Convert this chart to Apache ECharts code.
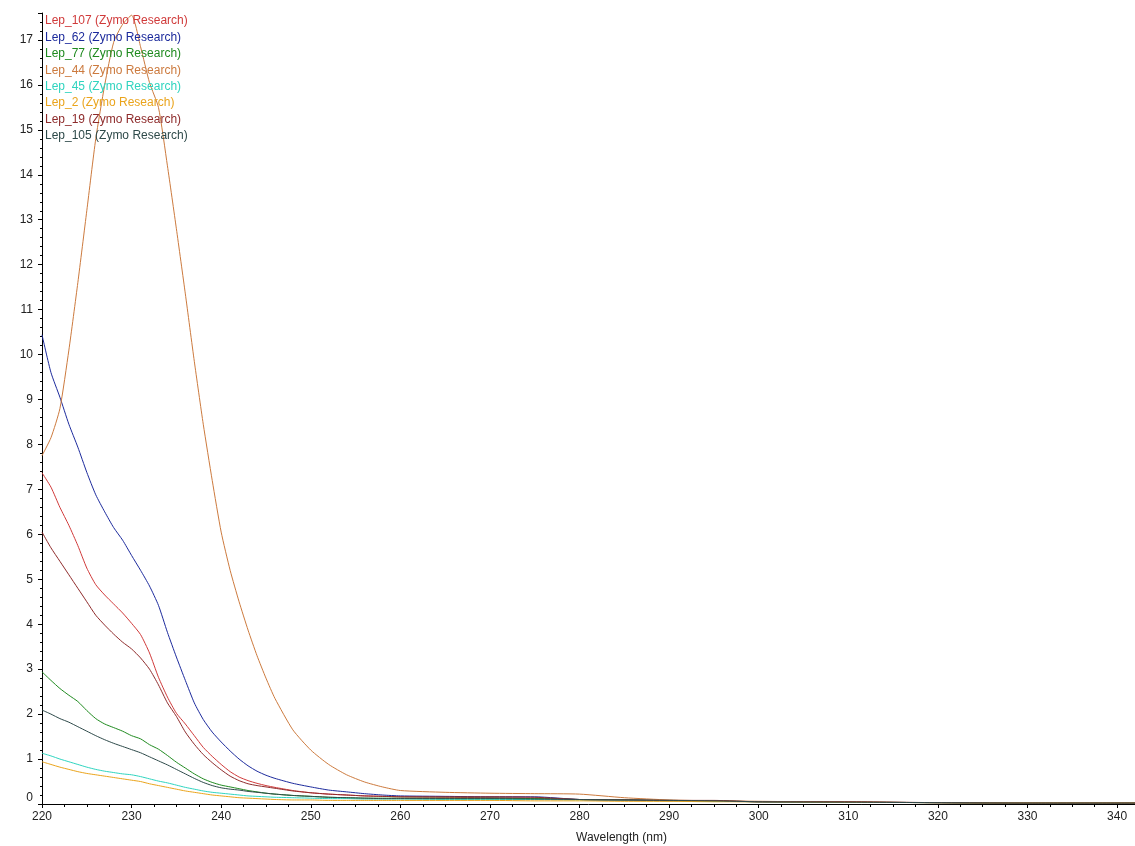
<!DOCTYPE html>
<html>
<head>
<meta charset="utf-8">
<script src="https://cdn.jsdelivr.net/npm/echarts@6/dist/echarts.min.js"></script>
<style>
html,body{margin:0;padding:0;background:#fff;}
#chart{width:1135px;height:846px;}
</style>
</head>
<body>
<div id="chart"></div>
<script>
// Wavelengths (nm)
const wavelengths = [220,221,222,223,224,225,226,227,228,229,230,231,232,233,234,235,236,237,238,239,240,241,242,243,244,245,246,248,250,252,254,256,258,260,265,270,275,280,285,290,295,300,310,320,330,342];

const lep107 = [7.37,7.05,6.6,6.2,5.75,5.25,4.88,4.65,4.45,4.25,4.02,3.77,3.36,2.82,2.38,2.02,1.78,1.52,1.26,1.06,0.88,0.72,0.6,0.52,0.46,0.41,0.37,0.3,0.25,0.22,0.2,0.18,0.17,0.16,0.15,0.14,0.13,0.1,0.09,0.07,0.06,0.05,0.04,0.03,0.02,0.02];
const lep62  = [10.44,9.6,9.05,8.45,7.94,7.38,6.88,6.5,6.15,5.87,5.53,5.2,4.85,4.42,3.82,3.27,2.75,2.25,1.88,1.6,1.38,1.18,1.0,0.85,0.73,0.64,0.57,0.46,0.38,0.31,0.27,0.23,0.2,0.18,0.17,0.16,0.16,0.1,0.09,0.08,0.07,0.05,0.04,0.03,0.02,0.02];
const lep77  = [2.94,2.75,2.57,2.42,2.28,2.08,1.9,1.78,1.7,1.62,1.52,1.45,1.32,1.22,1.08,0.93,0.8,0.67,0.56,0.48,0.42,0.38,0.34,0.3,0.27,0.24,0.22,0.19,0.17,0.15,0.14,0.13,0.13,0.13,0.13,0.13,0.12,0.1,0.09,0.08,0.07,0.05,0.04,0.03,0.02,0.02];
const lep44  = [7.75,8.15,8.8,10.1,11.6,13.2,14.8,16.0,16.95,17.35,17.55,16.85,16.05,15.5,14.2,12.8,11.35,9.85,8.45,7.2,6.05,5.2,4.5,3.87,3.3,2.8,2.35,1.65,1.2,0.88,0.65,0.49,0.38,0.3,0.26,0.24,0.23,0.22,0.14,0.09,0.07,0.06,0.04,0.03,0.03,0.03];
const lep45  = [1.13,1.07,1.0,0.94,0.88,0.82,0.77,0.73,0.7,0.67,0.65,0.61,0.56,0.51,0.47,0.42,0.37,0.33,0.29,0.26,0.24,0.22,0.2,0.18,0.17,0.16,0.15,0.14,0.13,0.12,0.12,0.11,0.11,0.11,0.1,0.1,0.1,0.09,0.08,0.07,0.06,0.05,0.04,0.03,0.02,0.02];
const lep2   = [0.94,0.88,0.82,0.77,0.72,0.68,0.65,0.62,0.59,0.56,0.53,0.5,0.45,0.41,0.37,0.33,0.29,0.26,0.23,0.2,0.18,0.16,0.14,0.13,0.12,0.11,0.1,0.09,0.09,0.08,0.08,0.08,0.08,0.08,0.08,0.08,0.07,0.07,0.06,0.06,0.05,0.05,0.04,0.03,0.02,0.02];
const lep19  = [6.05,5.7,5.4,5.1,4.8,4.5,4.2,3.98,3.78,3.6,3.45,3.25,3.0,2.65,2.25,1.95,1.6,1.33,1.1,0.92,0.76,0.62,0.52,0.45,0.41,0.38,0.35,0.29,0.25,0.22,0.2,0.18,0.17,0.16,0.16,0.16,0.15,0.1,0.09,0.08,0.08,0.05,0.05,0.03,0.02,0.02];
const lep105 = [2.09,2.0,1.9,1.82,1.72,1.62,1.52,1.43,1.35,1.28,1.21,1.14,1.05,0.96,0.87,0.77,0.67,0.57,0.48,0.41,0.36,0.33,0.31,0.28,0.26,0.24,0.22,0.19,0.17,0.15,0.14,0.13,0.12,0.12,0.12,0.12,0.11,0.1,0.09,0.08,0.07,0.05,0.04,0.03,0.02,0.02];

const seriesNames = ['Lep_107 (Zymo Research)','Lep_62 (Zymo Research)','Lep_77 (Zymo Research)','Lep_44 (Zymo Research)','Lep_45 (Zymo Research)','Lep_2 (Zymo Research)','Lep_19 (Zymo Research)','Lep_105 (Zymo Research)'];
const seriesValues = [lep107, lep62, lep77, lep44, lep45, lep2, lep19, lep105];
const seriesColors = ['#d03a3a','#1c2a9c','#1f8a1f','#cc7a3e','#2fd4bf','#eaa41c','#8e2b2b','#2e4a4a'];

const FONT = 'Liberation Sans, Arial, sans-serif';

const chart = echarts.init(document.getElementById('chart'), null, {renderer:'canvas'});
chart.setOption({
  animation: false,
  backgroundColor: '#ffffff',
  grid: {left: 42, right: 0, top: 13, bottom: 42, containLabel: false, outerBoundsMode: 'none'},
  legend: {
    orient: 'vertical',
    left: 40, top: 15,
    icon: 'none',
    itemWidth: 0, itemHeight: 12, itemGap: 4.4,
    padding: 0,
    selectedMode: false,
    textStyle: {fontFamily: FONT, fontSize: 12, padding: [0,0,0,0]},
    data: seriesNames.map((n, i) => ({name: n, textStyle: {color: seriesColors[i]}}))
  },
  xAxis: {
    type: 'value',
    min: 220, max: 342, interval: 10,
    name: 'Wavelength (nm)',
    nameLocation: 'middle',
    nameGap: 28,
    nameTextStyle: {fontFamily: FONT, fontSize: 12, color: '#222', padding: [0,0,0,66]},
    axisLine: {show: true, onZero: false, lineStyle: {color: '#000', width: 1}},
    axisTick: {show: true, length: 4, lineStyle: {color: '#000'}},
    minorTick: {show: true, splitNumber: 4, length: 3, lineStyle: {color: '#000'}},
    splitLine: {show: false},
    axisLabel: {fontFamily: FONT, fontSize: 12, color: '#222', margin: 7, showMaxLabel: false}
  },
  yAxis: {
    type: 'value',
    min: 0, max: 17.6, interval: 1,
    axisLine: {show: true, lineStyle: {color: '#000', width: 1}},
    axisTick: {show: true, length: 4, lineStyle: {color: '#000'}},
    minorTick: {show: true, splitNumber: 5, length: 2, lineStyle: {color: '#000'}},
    splitLine: {show: false},
    axisLabel: {fontFamily: FONT, fontSize: 12, color: '#222', margin: 9, showMaxLabel: false, verticalAlignMinLabel: 'bottom'}
  },
  series: seriesNames.map((n, i) => ({
    name: n,
    type: 'line',
    data: wavelengths.map((w, j) => [w, seriesValues[i][j]]),
    showSymbol: false,
    smooth: 0.2,
    clip: true,
    color: seriesColors[i],
    lineStyle: {width: 1, color: seriesColors[i]}
  }))
});
</script>
</body>
</html>
